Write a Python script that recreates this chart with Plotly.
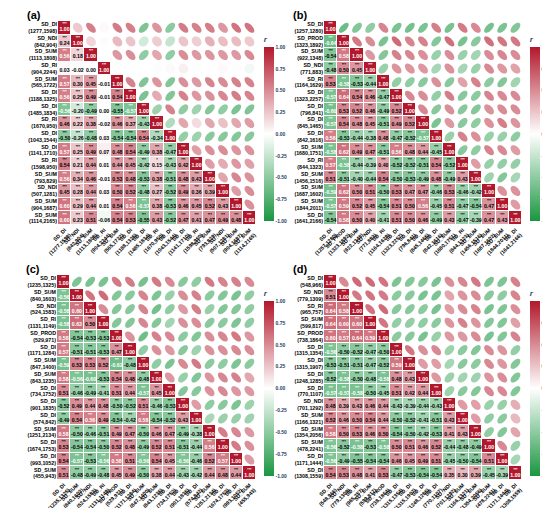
import numpy as np
import plotly.graph_objects as go

FONT = "Liberation Sans"
W, H = 550, 508

# ---- panel (a) ----
labels_a = ["SD_DI (1277,1598)", "SD_NDI (842,904)", "SD_SUM (1113,1808)", "SD_RI (904,2244)",
            "SD_SUM (565,1722)", "SD_DI (1188,1325)", "SD_DI (1485,1834)", "SD_RI (1670,950)",
            "SD_DI (1043,1544)", "SD_DI (1141,1710)", "SD_RI (1598,950)", "SD_SUM (793,829)",
            "SD_NDI (507,1281)", "SD_SUM (904,1687)", "SD_SUM (1114,2165)"]
rows_a = [
    [],
    [0.24],
    [0.56, 0.18],
    [0.03, -0.02, 0.00],
    [0.57, 0.30, 0.45, -0.01],
    [0.56, 0.25, 0.49, -0.01, 0.54],
    [-0.56, -0.20, -0.49, 0.00, -0.55, -0.57],
    [0.46, 0.22, 0.38, -0.02, 0.46, 0.37, -0.43],
    [-0.50, -0.26, -0.48, 0.03, -0.54, -0.54, 0.54, -0.34],
    [0.57, 0.25, 0.49, 0.07, 0.48, 0.54, -0.49, 0.38, -0.47],
    [0.54, 0.21, 0.44, 0.01, 0.44, 0.45, -0.42, 0.15, -0.43, 0.42],
    [0.56, 0.34, 0.46, -0.01, 0.53, 0.48, -0.53, 0.38, -0.51, 0.48, 0.43],
    [0.45, 0.28, 0.44, 0.03, 0.50, 0.52, -0.48, 0.27, -0.52, 0.49, 0.36, 0.39],
    [0.60, 0.29, 0.44, 0.01, 0.54, 0.56, -0.57, 0.38, -0.53, 0.46, 0.45, 0.52, 0.43],
    [0.60, 0.23, 0.51, -0.06, 0.54, 0.53, -0.55, 0.43, -0.52, 0.47, 0.41, 0.47, 0.49, 0.48],
]

# ---- panel (b) ----
labels_b = ["SD_DI (1257,1280)", "SD_PROD (1323,1892)", "SD_SUM (922,1348)", "SD_NDI (771,883)",
            "SD_RI (1164,1629)", "SD_DI (1323,2257)", "SD_DI (796,841)", "SD_DI (845,1465)",
            "SD_DI (842,1616)", "SD_SUM (1680,1751)", "SD_RI (844,1323)", "SD_SUM (1456,1516)",
            "SD_SUM (1687,1602)", "SD_SUM (1844,2011)", "SD_DI (1641,2166)"]
rows_b = [
    [],
    [-0.64],
    [-0.54, 0.58],
    [-0.48, 0.50, 0.45],
    [0.53, -0.58, -0.53, -0.44],
    [-0.57, 0.64, 0.54, 0.46, -0.47],
    [-0.60, 0.53, 0.52, 0.46, -0.49, 0.52],
    [-0.57, 0.54, 0.48, 0.45, -0.51, 0.49, 0.52],
    [0.56, -0.53, -0.44, -0.38, 0.48, -0.47, -0.52, -0.57],
    [-0.58, 0.62, 0.49, 0.47, -0.51, 0.56, 0.48, 0.44, -0.45],
    [0.57, -0.58, -0.44, -0.39, 0.40, -0.52, -0.52, -0.51, 0.54, -0.52],
    [0.51, -0.51, -0.40, -0.44, 0.54, -0.50, -0.53, -0.49, 0.48, -0.49, 0.43],
    [-0.59, 0.62, 0.50, 0.51, -0.50, 0.53, 0.47, 0.47, -0.46, 0.53, -0.46, -0.42],
    [-0.57, 0.59, 0.52, 0.45, -0.54, 0.51, 0.50, 0.56, -0.45, 0.51, -0.47, -0.54, 0.47],
    [-0.54, 0.58, 0.50, 0.40, -0.41, 0.51, 0.50, 0.46, -0.49, 0.43, -0.47, -0.39, 0.47, 0.43],
]

# ---- panel (c) ----
labels_c = ["SD_DI (1235,1325)", "SD_SUM (840,1603)", "SD_NDI (524,1583)", "SD_RI (1131,1149)",
            "SD_PROD (529,971)", "SD_DI (1171,1284)", "SD_SUM (847,1400)", "SD_SUM (843,1235)",
            "SD_DI (734,1752)", "SD_DI (901,1835)", "SD_DI (574,842)", "SD_SUM (1251,2134)",
            "SD_DI (1674,1753)", "SD_DI (993,1052)", "SD_SUM (455,943)"]
rows_c = [
    [],
    [-0.56],
    [-0.58, 0.60],
    [-0.58, 0.63, 0.50],
    [0.58, -0.54, -0.53, -0.53],
    [0.57, -0.51, -0.51, -0.53, 0.47],
    [-0.59, 0.53, 0.53, 0.52, -0.62, -0.48],
    [0.58, -0.56, -0.60, -0.53, 0.54, 0.48, -0.48],
    [0.51, -0.46, -0.49, -0.41, 0.51, 0.44, -0.57, 0.45],
    [-0.52, 0.49, 0.44, 0.48, -0.50, -0.52, 0.51, -0.46, -0.53],
    [-0.49, 0.54, 0.56, 0.49, -0.54, -0.42, 0.58, -0.54, -0.52, 0.43],
    [0.58, -0.50, -0.46, -0.51, 0.49, 0.47, -0.50, 0.46, 0.47, -0.49, -0.38],
    [0.53, -0.54, -0.54, -0.50, 0.52, 0.48, -0.49, 0.52, 0.51, -0.51, -0.44, 0.56],
    [0.54, -0.57, -0.53, -0.56, 0.58, 0.51, -0.56, 0.54, 0.45, -0.56, -0.46, 0.52, 0.57],
    [0.51, -0.48, -0.49, -0.48, 0.45, 0.49, -0.50, 0.38, 0.44, -0.43, -0.42, 0.44, 0.48, 0.44],
]

# ---- panel (d) ----
labels_d = ["SD_DI (548,966)", "SD_NDI (779,1309)", "SD_RI (965,757)", "SD_SUM (599,817)",
            "SD_PROD (738,1864)", "SD_DI (1315,1354)", "SD_DI (1315,1907)", "SD_DI (1248,1285)",
            "SD_DI (770,1107)", "SD_NDI (701,1292)", "SD_SUM (1166,1321)", "SD_SUM (1354,2056)",
            "SD_SUM (478,2241)", "SD_DI (1171,1444)", "SD_DI (1308,1559)"]
rows_d = [
    [],
    [0.51],
    [0.64, 0.58],
    [0.64, 0.60, 0.60],
    [0.60, 0.57, 0.64, 0.59],
    [-0.56, -0.50, -0.52, -0.47, -0.50],
    [-0.53, -0.51, -0.51, -0.47, -0.52, 0.59],
    [-0.52, -0.58, -0.50, -0.48, -0.58, 0.48, 0.43],
    [-0.57, -0.57, -0.58, -0.50, -0.45, 0.51, 0.42, 0.44],
    [0.48, 0.39, 0.43, 0.46, 0.44, -0.43, -0.39, -0.44, -0.43],
    [0.52, 0.46, 0.50, 0.54, 0.44, -0.50, -0.52, -0.41, -0.51, 0.43],
    [0.58, 0.50, 0.53, 0.46, 0.50, -0.54, -0.50, -0.42, -0.53, 0.41, 0.43],
    [-0.56, -0.52, -0.58, -0.53, -0.58, 0.50, 0.51, 0.46, 0.52, -0.44, -0.48, -0.49],
    [-0.56, -0.49, -0.55, -0.54, -0.54, 0.46, 0.45, 0.49, 0.51, -0.45, -0.50, -0.54, 0.51],
    [0.54, 0.53, 0.48, 0.41, 0.53, -0.47, -0.53, -0.54, -0.54, 0.35, 0.30, 0.39, -0.45, -0.39],
]

cbar_ticks = [-1.0, -0.75, -0.5, -0.25, 0.0, 0.25, 0.5, 0.75, 1.0]

# pixel boxes (left, top, right, bottom) of each matrix
panels = [
    ("(a)", labels_a, rows_a, (36, 13, 240, 217)),
    ("(b)", labels_b, rows_b, (310, 13, 514, 217)),
    ("(c)", labels_c, rows_c, (35, 267, 240, 472)),
    ("(d)", labels_d, rows_d, (310, 267, 514, 472)),
]

cscale = [[0.0, "#1a9641"], [0.5, "#ffffff"], [1.0, "#b2182b"]]


def hex2rgb(h):
    return [int(h[i:i + 2], 16) for i in (1, 3, 5)]


def r_color(v):
    p = (v + 1) / 2
    for (p0, c0), (p1, c1) in zip(cscale[:-1], cscale[1:]):
        if p0 <= p <= p1:
            f = (p - p0) / (p1 - p0)
            a, b = hex2rgb(c0), hex2rgb(c1)
            c = [round(a[k] + (b[k] - a[k]) * f) for k in range(3)]
            return "rgb({},{},{})".format(*c)
    return cscale[-1][1]


def full_matrix(rows):
    n = len(rows)
    m = np.eye(n)
    for i, row in enumerate(rows):
        for j, v in enumerate(row):
            m[i, j] = v
            m[j, i] = v
    return m


def stars(v):
    a = abs(v)
    if a >= 0.22:
        return "***"
    if a >= 0.17:
        return "**"
    if a >= 0.12:
        return "*"
    return ""


fig = go.Figure()
layout = {}
t = np.linspace(0, 2 * np.pi, 40)

for k, (tag, labels, rows, box) in enumerate(panels):
    sfx = "" if k == 0 else str(k + 1)
    xa, ya = "x" + sfx, "y" + sfx
    x0, y0, x1, y1 = box
    m = full_matrix(rows)
    n = len(labels)
    idx = list(range(1, n + 1))
    ticktext = [lab.replace(" ", "<br>") for lab in labels]

    z = [[m[i, j] if j <= i else None for j in range(n)] for i in range(n)]
    cb_top = y0 + 12
    cb_bot = y1 - 4
    fig.add_trace(go.Heatmap(
        z=z, x=idx, y=idx, xaxis=xa, yaxis=ya, zmin=-1, zmax=1,
        colorscale=cscale, xgap=1, ygap=1, hoverinfo="skip",
        colorbar=dict(
            x=(x1 + 8) / W, xanchor="left", xpad=0, ypad=0,
            y=1 - (cb_top + cb_bot) / 2 / H, yanchor="middle",
            len=cb_bot - cb_top, lenmode="pixels",
            thickness=10, outlinewidth=0,
            tickvals=cbar_ticks, ticktext=["%.2f" % v for v in cbar_ticks],
            tickfont=dict(size=5, family=FONT, weight="bold"),
            ticks="",
            title=dict(text="<i>r</i>", side="top",
                       font=dict(size=8, family=FONT, weight="bold")),
        ),
    ))

    # numbers and stars in the lower triangle
    nx, ny, nt, nc = [], [], [], []
    sx, sy, st, sc = [], [], [], []
    for i in range(n):
        for j in range(i + 1):
            v = m[i, j]
            col = "white" if abs(v) >= 0.555 else "black"
            nx.append(j + 1)
            ny.append(i + 1 + 0.15)
            nt.append("%.2f" % v)
            nc.append(col)
            sx.append(j + 1)
            sy.append(i + 1 - 0.25)
            st.append(stars(v))
            sc.append(col)
    fig.add_trace(go.Scatter(x=nx, y=ny, text=nt, mode="text", xaxis=xa, yaxis=ya,
                             textfont=dict(size=5.2, color=nc, family=FONT, weight="bold"),
                             hoverinfo="skip", showlegend=False))
    fig.add_trace(go.Scatter(x=sx, y=sy, text=st, mode="text", xaxis=xa, yaxis=ya,
                             textfont=dict(size=3.5, color=sc, family=FONT, weight="bold"),
                             hoverinfo="skip", showlegend=False))

    # ellipses in the upper triangle
    for i in range(n):
        for j in range(i + 1, n):
            r = m[i, j]
            d = np.arccos(np.clip(r, -1, 1))
            ex = (j + 1) + 0.37 * np.cos(t + d / 2)
            ey = (i + 1) + 0.37 * np.cos(t - d / 2)
            path = "M " + " L ".join("%.3f,%.3f" % (a, b) for a, b in zip(ex, ey)) + " Z"
            fig.add_shape(type="path", path=path, xref=xa, yref=ya,
                          fillcolor=r_color(r), line=dict(width=0), layer="above")

    axfont = dict(size=5.3, family=FONT, weight="bold", color="black")
    layout["xaxis" + sfx] = dict(domain=[x0 / W, x1 / W], range=[0.5, n + 0.5], anchor=ya,
                                 tickvals=idx, ticktext=ticktext, tickangle=-45,
                                 showgrid=False, zeroline=False, showline=False,
                                 tickfont=axfont, ticks="")
    layout["yaxis" + sfx] = dict(domain=[1 - y1 / H, 1 - y0 / H], range=[n + 0.5, 0.5], anchor=xa,
                                 tickvals=idx, ticktext=ticktext,
                                 showgrid=False, zeroline=False, showline=False,
                                 tickfont=axfont, ticks="")

    fig.add_annotation(text=tag, x=(x0 - 34) / W, y=1 - (y0 - 6) / H, xref="paper", yref="paper",
                       xanchor="left", yanchor="middle", showarrow=False,
                       font=dict(size=11, family=FONT, weight="bold", color="black"))

fig.update_layout(
    width=W, height=H, margin=dict(l=0, r=0, t=0, b=0),
    paper_bgcolor="white", plot_bgcolor="white", showlegend=False,
    **layout,
)
fig.write_html("out.html")
